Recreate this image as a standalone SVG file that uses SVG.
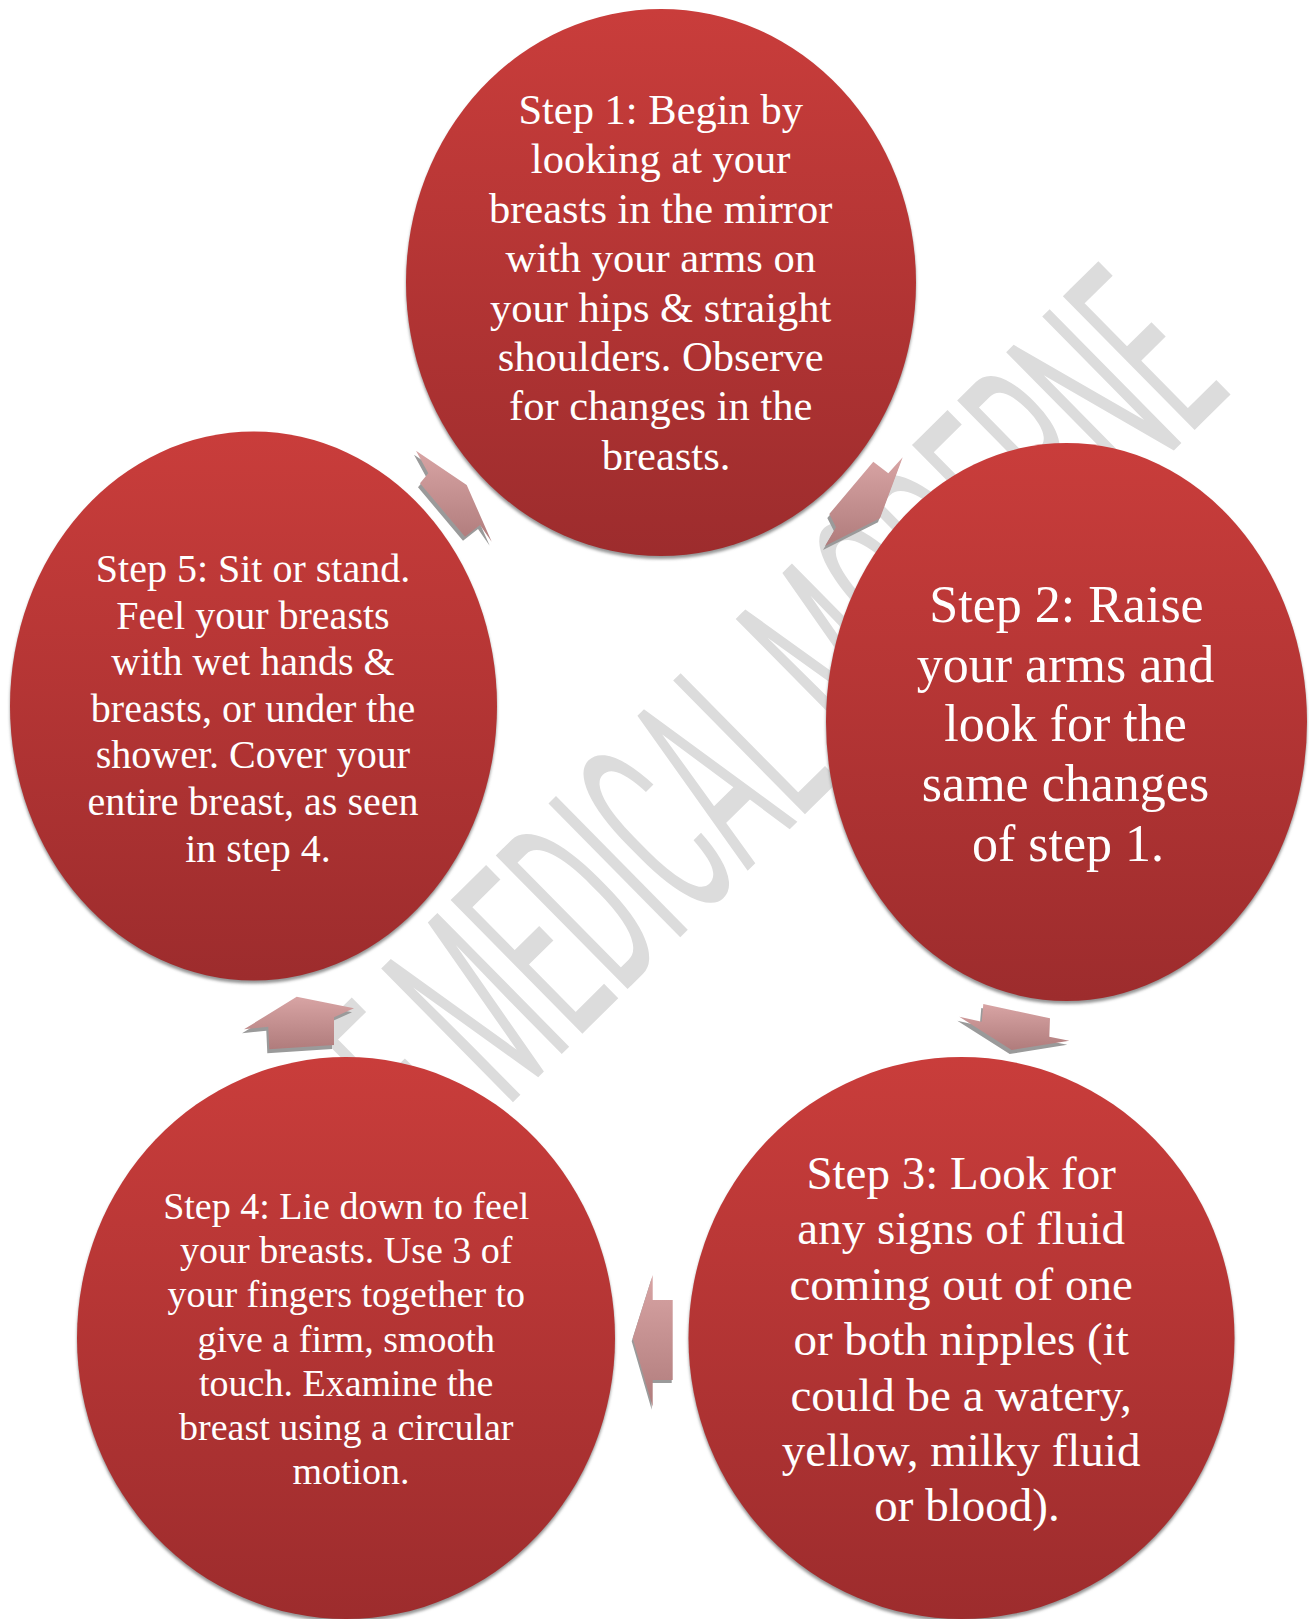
<svg xmlns="http://www.w3.org/2000/svg" xmlns:xlink="http://www.w3.org/1999/xlink" width="1309" height="1619" viewBox="0 0 1309 1619">
<style>
.t{font-family:"Liberation Serif","Times New Roman",serif;fill:#ffffff;text-anchor:middle}
.wm{font-family:Roboto,"Liberation Sans",sans-serif;fill:#dcdcdc}
.sh{fill:#959595;filter:url(#blur)}
.ash{fill:#9a9a9a}
</style>
<defs>
<linearGradient id="cg" x1="0" y1="0" x2="0" y2="1">
<stop offset="0" stop-color="#c93d3b"/>
<stop offset="1" stop-color="#9d2c2d"/>
</linearGradient>
<linearGradient id="ag" x1="0" y1="0" x2="0" y2="1">
<stop offset="0" stop-color="#d8a4a4"/>
<stop offset="1" stop-color="#b07c7c"/>
</linearGradient>
<filter id="blur" x="-10%" y="-10%" width="120%" height="120%">
<feGaussianBlur stdDeviation="1.5"/>
</filter>
<polygon id="p51" points="466.7,485 491.7,541.7 480,525 465,536.7 420,483.3 428.3,473.3 416,450.7"/>
<polygon id="p12" points="880,518.3 825,546 836,527.3 829.3,514 873.3,461.7 888.3,473.3 902.7,457.3"/>
<polygon id="p23" points="1011.7,1050 1069.3,1040.7 1049.3,1036.7 1050,1018.3 983.3,1004 981.7,1021.7 959.3,1016.7"/>
<polygon id="p34" points="632.7,1338.3 652.7,1275 652.7,1300 672.7,1300 672.7,1380 652.7,1380 652.7,1406.7"/>
<polygon id="p45" points="296.7,996.7 354,1008.3 334,1017.3 334,1045 269.3,1049.3 268.3,1026.7 244,1029.3"/>
</defs>
<rect width="1309" height="1619" fill="#ffffff"/>
<g id="watermark">
<text class="wm" transform="translate(507,1108) rotate(-44.6)" x="-92" y="0" font-size="264" textLength="1112" lengthAdjust="spacingAndGlyphs">E MEDICAL MODERNE</text>
</g>
<g id="step1">
<ellipse class="sh" cx="661" cy="285.5" rx="255" ry="273.5"/>
<ellipse cx="661" cy="282.5" rx="255" ry="273.5" fill="url(#cg)"/>
<text class="t" font-size="42.5">
<tspan x="666" y="124">Step 1: Begin by</tspan>
<tspan x="666" y="173.4">looking at your</tspan>
<tspan x="666" y="222.8">breasts in the mirror</tspan>
<tspan x="666" y="272.2">with your arms on</tspan>
<tspan x="666" y="321.6">your hips &amp; straight</tspan>
<tspan x="666" y="371">shoulders. Observe</tspan>
<tspan x="666" y="420.4">for changes in the</tspan>
<tspan x="666" y="469.8">breasts.</tspan>
</text>
</g>
<g id="step2">
<ellipse class="sh" cx="1066.5" cy="725" rx="240.5" ry="279"/>
<ellipse cx="1066.5" cy="722" rx="240.5" ry="279" fill="url(#cg)"/>
<text class="t" font-size="52">
<tspan x="1073" y="621.6">Step 2: Raise</tspan>
<tspan x="1072" y="681.5">your arms and</tspan>
<tspan x="1072" y="741.3">look for the</tspan>
<tspan x="1072" y="801.2">same changes</tspan>
<tspan x="1068" y="861">of step 1.</tspan>
</text>
</g>
<g id="step3">
<ellipse class="sh" cx="961.5" cy="1341" rx="273" ry="281"/>
<ellipse cx="961.5" cy="1338" rx="273" ry="281" fill="url(#cg)"/>
<text class="t" font-size="47">
<tspan x="967" y="1189">Step 3: Look for</tspan>
<tspan x="967" y="1244.4">any signs of fluid</tspan>
<tspan x="967" y="1299.8">coming out of one</tspan>
<tspan x="967" y="1355.2">or both nipples (it</tspan>
<tspan x="967" y="1410.6">could be a watery,</tspan>
<tspan x="967" y="1466">yellow, milky fluid</tspan>
<tspan x="967" y="1521.4">or blood).</tspan>
</text>
</g>
<g id="step4">
<ellipse class="sh" cx="346" cy="1341" rx="269" ry="281"/>
<ellipse cx="346" cy="1338" rx="269" ry="281" fill="url(#cg)"/>
<text class="t" font-size="38">
<tspan x="351" y="1219">Step 4: Lie down to feel</tspan>
<tspan x="351" y="1263.2">your breasts. Use 3 of</tspan>
<tspan x="351" y="1307.4">your fingers together to</tspan>
<tspan x="351" y="1351.6">give a firm, smooth</tspan>
<tspan x="351" y="1395.8">touch. Examine the</tspan>
<tspan x="351" y="1440">breast using a circular</tspan>
<tspan x="351" y="1484.2">motion.</tspan>
</text>
</g>
<g id="step5">
<ellipse class="sh" cx="253.5" cy="709" rx="243.5" ry="274.5"/>
<ellipse cx="253.5" cy="706" rx="243.5" ry="274.5" fill="url(#cg)"/>
<text class="t" font-size="40">
<tspan x="258" y="581.8">Step 5: Sit or stand.</tspan>
<tspan x="258" y="628.5">Feel your breasts</tspan>
<tspan x="258" y="675.1">with wet hands &amp;</tspan>
<tspan x="258" y="721.8">breasts, or under the</tspan>
<tspan x="258" y="768.4">shower. Cover your</tspan>
<tspan x="258" y="815.1">entire breast, as seen</tspan>
<tspan x="258" y="861.7">in step 4.</tspan>
</text>
</g>
<g id="connectors">
<use xlink:href="#p51" class="ash" transform="translate(-2,4)"/>
<use xlink:href="#p51" fill="url(#ag)"/>
<use xlink:href="#p12" class="ash" transform="translate(-2,4)"/>
<use xlink:href="#p12" fill="url(#ag)"/>
<use xlink:href="#p23" class="ash" transform="translate(-2,4)"/>
<use xlink:href="#p23" fill="url(#ag)"/>
<use xlink:href="#p34" class="ash" transform="translate(-1,3)"/>
<use xlink:href="#p34" fill="url(#ag)"/>
<use xlink:href="#p45" class="ash" transform="translate(-2,4)"/>
<use xlink:href="#p45" fill="url(#ag)"/>
</g>
</svg>
